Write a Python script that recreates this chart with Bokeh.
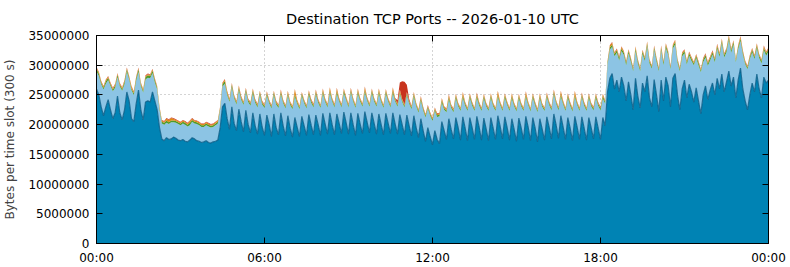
from bokeh.plotting import figure
from bokeh.models import ColumnDataSource, FixedTicker, LinearAxis
from bokeh.embed import file_html
from bokeh.resources import INLINE

TITLE = "Destination TCP Ports -- 2026-01-10 UTC"
Y_LABEL = "Bytes per time slot (300 s)"
x_tick_hours = [0, 6, 12, 18, 24]
x_tick_labels = ["00:00", "06:00", "12:00", "18:00", "00:00"]
y_ticks = [0, 5000000, 10000000, 15000000, 20000000, 25000000, 30000000, 35000000]
y_tick_labels = ["0", "5000000", "10000000", "15000000", "20000000", "25000000", "30000000", "35000000"]
slot_minutes = 5

# series values, millions of bytes per 300 s slot (00:00 .. 24:00)
main_m = [
 26.0, 25.0, 23.0, 21.5, 23.0, 24.2, 22.5, 21.0, 22.0, 24.8, 22.0, 20.8,
 22.5, 25.5, 24.0, 21.0, 20.5, 23.5, 25.8, 22.5, 20.8, 23.8, 24.0, 23.8,
 25.5, 24.0, 22.5, 19.5, 17.6, 17.3, 17.8, 17.5, 17.6, 17.9, 17.7, 17.4,
 17.3, 17.5, 17.2, 17.1, 17.4, 17.8, 17.6, 17.3, 17.2, 17.0, 17.1, 17.3,
 17.0, 16.9, 17.1, 17.2, 17.4, 19.5, 23.0, 23.6, 21.0, 19.2, 23.0, 20.2,
 19.0, 22.6, 20.5, 18.8, 22.4, 20.0, 18.6, 22.0, 19.8, 18.4, 21.8, 19.6,
 18.2, 21.6, 20.0, 18.0, 21.8, 19.5, 18.3, 22.0, 19.8, 18.1, 21.5, 19.4,
 17.9, 21.2, 19.6, 18.0, 21.4, 19.8, 18.2, 21.7, 19.9, 18.3, 21.6, 20.0,
 18.2, 21.9, 20.1, 18.4, 22.0, 20.0, 18.3, 21.8, 20.2, 18.5, 22.1, 20.3,
 18.4, 22.0, 20.0, 18.2, 21.9, 20.1, 18.5, 22.2, 20.4, 18.6, 22.0, 20.2,
 18.4, 21.8, 20.0, 18.3, 21.9, 20.2, 18.5, 22.0, 20.1, 18.4, 21.7, 20.0,
 18.3, 21.6, 19.8, 18.1, 21.5, 19.5, 17.8, 21.0, 19.0, 17.2, 19.5, 18.0,
 16.6, 19.0, 17.5, 16.8, 20.5, 19.0, 17.5, 21.0, 19.2, 17.6, 21.2, 19.5,
 17.4, 21.3, 19.4, 17.3, 21.2, 19.5, 17.5, 21.4, 19.6, 17.4, 21.1, 19.3,
 17.3, 21.2, 19.4, 17.5, 21.5, 19.7, 17.6, 21.3, 19.5, 17.4, 21.0, 19.2,
 17.2, 21.1, 19.5, 17.5, 21.4, 19.6, 17.3, 21.2, 19.4, 17.1, 21.0, 19.3,
 17.4, 21.3, 19.6, 17.6, 21.8, 19.9, 17.7, 21.5, 19.6, 17.5, 21.2, 19.4,
 17.3, 21.4, 19.6, 17.5, 21.3, 19.4, 17.4, 21.2, 19.5, 17.6, 21.3, 19.4,
 17.5, 21.2, 19.8, 25.5, 27.8, 28.6, 26.0, 27.5, 25.5, 28.0, 26.5, 24.0,
 27.2, 25.0, 22.5, 27.8, 24.8, 22.8, 27.0, 25.5, 28.2, 24.5, 23.0, 27.6,
 25.0, 22.2, 27.5, 24.0, 28.0, 26.5, 23.0, 27.8, 28.6, 25.0, 22.5, 26.0,
 27.5, 24.5, 26.8, 25.5, 23.8, 26.2, 24.0, 21.8, 25.0, 26.5, 24.2, 25.8,
 27.0, 25.0, 27.8, 26.0, 28.5, 25.5, 27.2, 29.0, 26.5, 28.0, 24.5, 27.5,
 29.5, 26.0, 24.0, 22.5, 25.0, 27.0, 25.5, 28.5, 26.0, 24.5, 28.0, 27.0,
 27.5]

light_m = [
 3.0, 3.2, 3.8, 4.4, 3.9, 3.3, 4.0, 4.6, 4.2, 3.2, 4.4, 4.9,
 4.3, 3.4, 3.6, 4.8, 4.5, 3.9, 3.1, 4.0, 4.6, 3.8, 3.9, 4.0,
 3.2, 3.1, 3.4, 3.0, 2.6, 2.7, 2.5, 2.6, 2.8, 2.5, 2.6, 2.7,
 2.6, 2.7, 2.8, 2.6, 2.5, 2.7, 2.6, 2.8, 2.7, 2.6, 2.5, 2.6,
 2.7, 2.6, 2.5, 2.7, 2.8, 3.0, 3.4, 3.3, 4.0, 4.6, 3.3, 4.2,
 4.4, 3.2, 3.7, 4.5, 3.1, 3.8, 4.6, 3.3, 3.9, 4.5, 3.2, 3.8,
 4.6, 3.3, 3.6, 4.7, 3.2, 3.9, 4.5, 3.1, 3.8, 4.6, 3.4, 3.9,
 4.7, 3.5, 3.9, 4.6, 3.4, 3.8, 4.5, 3.3, 3.8, 4.6, 3.5, 3.7,
 4.6, 3.3, 3.7, 4.5, 3.3, 3.9, 4.6, 3.4, 3.7, 4.4, 3.2, 3.8,
 4.5, 3.4, 3.9, 4.6, 3.3, 3.8, 4.5, 3.2, 3.6, 4.4, 3.3, 3.7,
 4.6, 3.4, 3.8, 4.5, 3.3, 3.7, 4.4, 3.3, 3.8, 4.6, 3.4, 3.8,
 4.6, 3.3, 3.7, 4.5, 3.2, 3.6, 4.2, 3.0, 3.4, 4.0, 3.2, 3.5,
 4.0, 3.3, 3.8, 4.6, 3.2, 3.5, 4.6, 3.2, 3.6, 4.5, 3.2, 3.6,
 4.9, 3.2, 3.8, 5.0, 3.3, 3.7, 4.8, 3.1, 3.6, 4.9, 3.3, 3.8,
 5.0, 3.3, 3.7, 4.8, 3.1, 3.6, 4.7, 3.2, 3.8, 4.9, 3.4, 3.9,
 5.0, 3.3, 3.6, 4.8, 3.2, 3.7, 4.9, 3.3, 3.8, 5.0, 3.4, 3.7,
 4.9, 3.3, 3.7, 4.8, 3.3, 3.6, 4.7, 3.2, 3.8, 4.8, 3.3, 3.8,
 4.9, 3.2, 3.7, 4.8, 3.3, 3.8, 4.9, 3.3, 3.6, 4.8, 3.2, 3.8,
 4.9, 3.2, 3.7, 4.5, 4.8, 4.5, 5.5, 4.6, 5.3, 4.4, 5.2, 6.0,
 4.8, 5.6, 6.5, 4.6, 5.5, 6.2, 4.9, 5.2, 5.0, 5.8, 6.4, 5.0,
 5.6, 6.8, 5.0, 6.0, 4.9, 5.2, 6.3, 5.0, 4.9, 5.4, 6.5, 5.5,
 4.5, 5.6, 4.8, 5.2, 6.2, 5.0, 6.0, 7.0, 5.5, 4.8, 5.7, 5.0,
 4.8, 5.5, 5.0, 5.4, 5.2, 5.8, 5.0, 5.3, 5.6, 5.5, 6.0, 5.2,
 4.6, 5.8, 6.2, 6.8, 6.0, 5.2, 5.5, 4.4, 5.2, 5.8, 4.5, 4.6,
 4.8]

# thin layers, tenths of a million
green_t = [
 4, 4, 3, 3, 4, 4, 3, 3, 4, 4, 3, 3,
 4, 4, 3, 3, 3, 4, 4, 3, 3, 4, 4, 4,
 4, 4, 3, 3, 3, 3, 4, 3, 3, 3, 3, 3,
 3, 3, 3, 3, 4, 3, 3, 3, 3, 3, 3, 3,
 3, 3, 3, 3, 3, 3, 4, 4, 3, 3, 4, 3,
 3, 4, 3, 3, 4, 3, 3, 4, 3, 3, 4, 3,
 3, 4, 3, 3, 4, 3, 3, 4, 3, 3, 4, 3,
 3, 4, 3, 3, 4, 3, 3, 4, 3, 3, 4, 3,
 3, 4, 3, 3, 4, 3, 3, 4, 3, 3, 4, 3,
 3, 4, 3, 3, 4, 3, 3, 4, 3, 3, 4, 3,
 3, 4, 3, 3, 4, 3, 3, 4, 3, 3, 4, 3,
 3, 4, 3, 3, 4, 3, 3, 4, 3, 3, 3, 3,
 3, 3, 3, 3, 4, 3, 3, 4, 3, 3, 4, 3,
 3, 4, 3, 3, 4, 3, 3, 4, 3, 3, 4, 3,
 3, 4, 3, 3, 4, 3, 3, 4, 3, 3, 4, 3,
 3, 4, 3, 3, 4, 3, 3, 4, 3, 3, 4, 3,
 3, 4, 3, 3, 4, 3, 3, 4, 3, 3, 4, 3,
 3, 4, 3, 3, 4, 3, 3, 4, 3, 3, 4, 3,
 3, 4, 3, 4, 4, 4, 4, 4, 4, 4, 4, 4,
 4, 4, 3, 4, 4, 3, 4, 4, 4, 4, 3, 4,
 4, 3, 4, 4, 4, 4, 3, 4, 4, 4, 3, 4,
 4, 4, 4, 4, 3, 4, 4, 3, 4, 4, 4, 4,
 4, 4, 4, 4, 4, 4, 4, 4, 4, 4, 3, 4,
 4, 4, 3, 3, 4, 4, 4, 4, 4, 4, 4, 4,
 4]

orange_t = [
 2, 2, 2, 2, 2, 2, 2, 2, 2, 2, 2, 2,
 2, 2, 2, 3, 2, 2, 2, 2, 2, 2, 2, 2,
 2, 2, 2, 2, 2, 2, 3, 4, 4, 3, 2, 2,
 2, 2, 2, 2, 3, 2, 2, 2, 2, 2, 2, 2,
 2, 2, 2, 2, 2, 2, 2, 3, 3, 2, 2, 2,
 2, 3, 2, 2, 2, 2, 2, 3, 2, 2, 2, 2,
 2, 2, 2, 2, 2, 2, 2, 3, 2, 2, 3, 2,
 2, 8, 3, 2, 2, 2, 2, 3, 2, 2, 3, 2,
 2, 4, 2, 2, 5, 2, 2, 5, 2, 2, 3, 2,
 2, 3, 2, 2, 4, 2, 2, 5, 2, 2, 3, 2,
 2, 4, 2, 2, 3, 2, 2, 5, 2, 2, 4, 2,
 2, 2, 2, 2, 3, 2, 2, 3, 2, 2, 2, 2,
 2, 2, 2, 2, 3, 2, 2, 4, 2, 2, 3, 2,
 2, 5, 2, 2, 3, 2, 2, 4, 2, 2, 3, 2,
 2, 3, 2, 2, 6, 2, 2, 3, 2, 2, 4, 2,
 2, 3, 2, 2, 5, 2, 2, 3, 2, 2, 4, 2,
 2, 3, 2, 2, 3, 2, 2, 5, 2, 2, 3, 2,
 2, 6, 2, 2, 3, 2, 2, 3, 2, 2, 3, 2,
 2, 3, 2, 2, 3, 3, 2, 2, 2, 3, 2, 2,
 2, 2, 2, 3, 2, 2, 2, 2, 3, 2, 2, 2,
 2, 2, 3, 2, 3, 2, 2, 2, 3, 2, 2, 2,
 2, 2, 2, 2, 2, 2, 2, 2, 2, 2, 2, 2,
 2, 2, 3, 2, 3, 2, 2, 3, 2, 2, 2, 2,
 3, 2, 2, 2, 2, 2, 2, 3, 2, 2, 3, 2,
 2]

red_t = [
 1, 1, 1, 1, 1, 1, 1, 1, 1, 1, 1, 1,
 1, 1, 1, 1, 1, 1, 1, 1, 1, 1, 1, 1,
 1, 1, 1, 1, 1, 1, 1, 1, 1, 1, 1, 1,
 1, 1, 1, 1, 1, 1, 1, 1, 1, 1, 1, 1,
 1, 1, 1, 1, 1, 1, 1, 1, 1, 1, 1, 1,
 1, 1, 1, 1, 1, 1, 1, 1, 1, 1, 1, 1,
 1, 1, 1, 1, 1, 1, 1, 1, 1, 1, 1, 1,
 1, 1, 1, 1, 1, 1, 1, 1, 1, 1, 1, 1,
 1, 1, 1, 1, 1, 1, 1, 1, 1, 1, 1, 1,
 1, 1, 1, 1, 1, 1, 1, 1, 1, 1, 1, 1,
 1, 1, 1, 1, 1, 1, 1, 1, 1, 6, 12, 30,
 38, 12, 3, 1, 1, 1, 1, 1, 1, 1, 1, 1,
 1, 1, 1, 1, 1, 1, 1, 1, 1, 1, 1, 1,
 1, 1, 1, 1, 1, 1, 1, 1, 1, 1, 1, 1,
 1, 1, 1, 1, 1, 1, 1, 1, 1, 1, 1, 1,
 1, 1, 1, 1, 1, 1, 1, 1, 1, 1, 1, 1,
 1, 1, 1, 1, 1, 1, 1, 1, 1, 1, 1, 1,
 1, 1, 1, 1, 1, 1, 1, 1, 1, 1, 1, 1,
 1, 1, 1, 1, 1, 1, 1, 1, 1, 1, 1, 1,
 1, 1, 1, 1, 1, 1, 1, 1, 1, 1, 1, 1,
 1, 1, 1, 1, 1, 1, 1, 1, 1, 1, 1, 1,
 1, 1, 1, 1, 1, 1, 1, 1, 1, 1, 1, 1,
 1, 1, 1, 1, 1, 1, 1, 1, 1, 1, 1, 1,
 1, 1, 1, 1, 1, 1, 1, 1, 1, 1, 1, 1,
 1]

colors = ["#0083b4", "#8cc4e4", "#4e9a2a", "#e08a12", "#c8341e"]

n = len(main_m)
source = ColumnDataSource(dict(
    x=[i * slot_minutes / 60 for i in range(n)],
    main=[v * 1e6 for v in main_m],
    light=[v * 1e6 for v in light_m],
    green=[v * 1e5 for v in green_t],
    orange=[v * 1e5 for v in orange_t],
    red=[v * 1e5 for v in red_t],
))

FONT = "DejaVu Sans"
p = figure(width=790, height=267, x_range=(0, 24), y_range=(0, 35e6),
           output_backend="svg", toolbar_location=None,
           min_border_left=95, min_border_right=22, min_border_top=34, min_border_bottom=24)
p.background_fill_color = "white"
p.border_fill_color = "white"
p.outline_line_color = "black"
p.outline_line_width = 1

p.title.text = TITLE
p.title.align = "center"
p.title.text_font = FONT
p.title.text_font_size = "14.5px"
p.title.text_font_style = "normal"
p.title.text_color = "black"
p.title.text_line_height = 0.8
p.title.standoff = 17

p.varea_stack(stackers=["main", "light", "green", "orange", "red"], x="x",
              color=colors, source=source)
p.line("x", "main", source=source, line_color="#0b5e88", line_width=1.2, line_alpha=0.85)

xt = FixedTicker(ticks=x_tick_hours)
yt = FixedTicker(ticks=y_ticks)
xover = {t: l for t, l in zip(x_tick_hours, x_tick_labels)}
yover = {t: l for t, l in zip(y_ticks, y_tick_labels)}

for ax in p.xaxis:
    ax.ticker = xt
    ax.major_label_overrides = xover
for ax in p.yaxis:
    ax.ticker = yt
    ax.major_label_overrides = yover

def style(ax, show_labels=True):
    ax.axis_line_color = "black"
    ax.major_tick_in = 6
    ax.major_tick_out = 0
    ax.minor_tick_line_color = None
    ax.major_tick_line_color = "black"
    ax.major_label_text_font = FONT
    ax.major_label_text_font_size = "12px"
    ax.major_label_text_color = "black" if show_labels else None
    ax.major_label_standoff = 7 if show_labels else 0

style(p.xaxis[0])
style(p.yaxis[0])
p.xaxis[0].major_label_standoff = 7
p.yaxis[0].axis_label = Y_LABEL
p.yaxis[0].axis_label_text_font = FONT
p.yaxis[0].axis_label_text_font_size = "12px"
p.yaxis[0].axis_label_text_font_style = "normal"
p.yaxis[0].axis_label_standoff = 8

ra = LinearAxis(ticker=yt, major_label_overrides=yover)
style(ra, False)
p.add_layout(ra, "right")
ta = LinearAxis(ticker=xt, major_label_overrides=xover)
style(ta, False)
p.add_layout(ta, "above")

p.xgrid.ticker = FixedTicker(ticks=[6, 12, 18])
p.ygrid.ticker = FixedTicker(ticks=y_ticks[1:-1])
for g in (p.xgrid[0], p.ygrid[0]):
    g.grid_line_color = "#a8a8a8"
    g.grid_line_dash = "1 3"
    g.grid_line_width = 1

open("out.html", "w").write(file_html(p, INLINE))
